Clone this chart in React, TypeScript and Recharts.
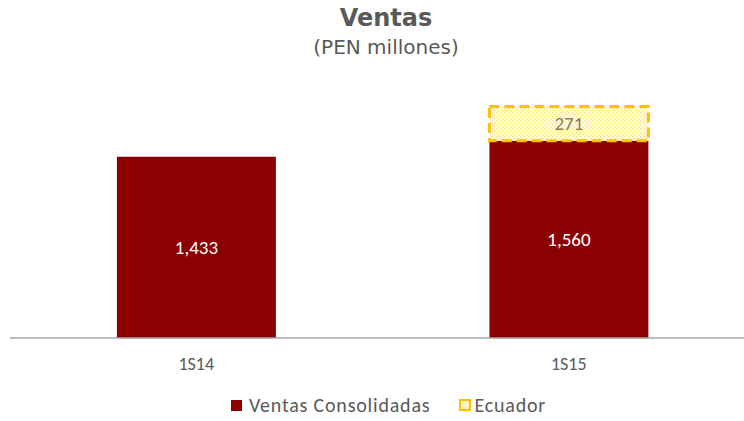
import { BarChart, Bar, XAxis, YAxis, LabelList, Legend } from 'recharts'

const categories = ['1S14', '1S15']
const consolidadas = [1433, 1560]
const ecuador = [null, 271]

const data = categories.map((c, i) => ({
  name: c,
  consolidadas: consolidadas[i],
  ecuador: ecuador[i],
}))

const FONT = 'Calibri, Carlito, "Open Sans", sans-serif'
const TEXT = '#595959'

function LegendContent() {
  return (
    <div
      style={{
        display: 'flex',
        justifyContent: 'center',
        alignItems: 'center',
        fontFamily: FONT,
        fontSize: 20,
        letterSpacing: 0.8,
        color: TEXT,
        marginLeft: 12,
      }}
    >
      <span style={{ width: 11, height: 11, background: '#8B0000', display: 'inline-block', marginRight: 7 }} />
      <span>Ventas Consolidadas</span>
      <span
        style={{
          width: 8,
          height: 8,
          marginLeft: 29,
          marginRight: 3,
          border: '2px solid #FFC000',
          background: '#FFF3C4',
          display: 'inline-block',
        }}
      />
      <span>Ecuador</span>
    </div>
  )
}

export default function App() {
  return (
    <div
      style={{
        position: 'absolute',
        left: 0,
        top: 0,
        width: 744,
        height: 421,
        overflow: 'hidden',
        background: '#fff',
      }}
    >
      <div
        style={{
          position: 'absolute',
          left: 0,
          width: 772,
          top: 3,
          textAlign: 'center',
          fontFamily: 'Tahoma, "DejaVu Sans", sans-serif',
          color: TEXT,
        }}
      >
        <div style={{ fontSize: 24, fontWeight: 'bold', lineHeight: '30px' }}>Ventas</div>
        <div style={{ fontSize: 20, lineHeight: '28px' }}>(PEN millones)</div>
      </div>
      <BarChart
        width={760}
        height={421}
        data={data}
        margin={{ top: 85, right: 5, bottom: 0, left: 10 }}
        barCategoryGap="28.7%"
      >
        <defs>
          <pattern id="dots" width="4" height="4" patternUnits="userSpaceOnUse">
            <rect width="4" height="4" fill="#FFFCEE" />
            <rect x="0" y="0" width="1.3" height="1.3" fill="#FFDA70" />
            <rect x="2" y="2" width="1.3" height="1.3" fill="#FFDA70" />
          </pattern>
        </defs>
        <XAxis
          dataKey="name"
          tickLine={false}
          axisLine={{ stroke: '#A6A6A6', strokeWidth: 1.5 }}
          tick={{ fill: TEXT, fontSize: 18, fontFamily: FONT }}
          tickMargin={13}
          height={55}
        />
        <YAxis hide domain={[0, 2000]} />
        <Legend verticalAlign="bottom" height={28} content={<LegendContent />} />
        <Bar dataKey="consolidadas" stackId="a" fill="#8B0000" isAnimationActive={false}>
          <LabelList
            dataKey="consolidadas"
            position="center"
            fill="#fff"
            fontSize={19}
            fontFamily={FONT}
            formatter={(v: number) => v.toLocaleString('en-US')}
          />
        </Bar>
        <Bar
          dataKey="ecuador"
          stackId="a"
          fill="url(#dots)"
          stroke="#FFC000"
          strokeWidth={3}
          strokeDasharray="10 5"
          isAnimationActive={false}
        >
          <LabelList
            dataKey="ecuador"
            position="center"
            fill="#7F7F6A"
            fontSize={19}
            fontFamily={FONT}
          />
        </Bar>
      </BarChart>
    </div>
  )
}
